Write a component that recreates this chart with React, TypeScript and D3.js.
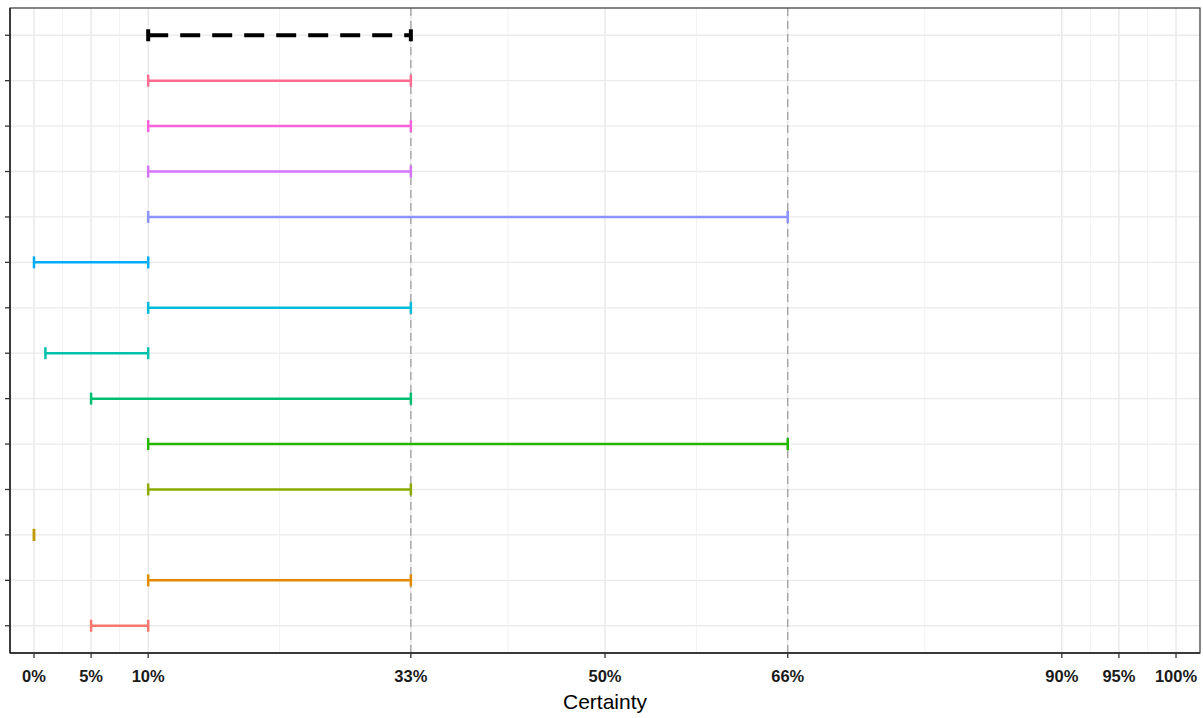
import React from "react";
import * as d3 from "d3";

// rows listed bottom to top
const rowIds = ["r1","r2","r3","r4","r5","r6","r7","r8","r9","r10","r11","r12","r13","all"];
const lowValues = [5, 10, 0, 10, 10, 5, 1, 10, 0, 10, 10, 10, 10, 10];
const highValues = [10, 33, 0, 33, 66, 33, 10, 33, 10, 66, 33, 33, 33, 33];
const rowColors = ["#F8766D","#E18A00","#BE9C00","#8CAB00","#24B700","#00BE70","#00C1AB","#00BBDA","#00ACFC","#8B93FF","#D575FE","#F962DD","#FF6C91","#000000"];
const tickValues = [0, 5, 10, 33, 50, 66, 90, 95, 100];
const refLines = [33, 66];

const W = 1203, H = 718;
const panel = { left: 10, right: 1200, top: 8, bottom: 653 };

export default function App() {
  const x = d3.scaleLinear().domain([-2.1, 102.1]).range([panel.left, panel.right]);
  const y = d3.scalePoint<string>().domain(rowIds.slice().reverse()).range([panel.top, panel.bottom]).padding(0.6);
  const minor = tickValues.slice(1).map((v, i) => (v + tickValues[i]) / 2);
  const cap = 6;
  return (
    <svg width={W} height={H} style={{ position: "absolute", left: 0, top: 0, background: "#fff" }}>
      <rect x={panel.left} y={panel.top} width={panel.right - panel.left} height={panel.bottom - panel.top} fill="#fff" />
      {minor.map((v, i) => (
        <line key={"mn" + i} x1={x(v)} x2={x(v)} y1={panel.top} y2={panel.bottom} stroke="#f2f2f2" strokeWidth={1} />
      ))}
      {tickValues.map((v, i) => (
        <line key={"mj" + i} x1={x(v)} x2={x(v)} y1={panel.top} y2={panel.bottom} stroke="#e6e6e6" strokeWidth={1.3} />
      ))}
      {rowIds.map((r) => (
        <line key={"h" + r} x1={panel.left} x2={panel.right} y1={y(r)} y2={y(r)} stroke="#ebebeb" strokeWidth={1.3} />
      ))}
      {refLines.map((v, i) => (
        <line key={"ref" + i} x1={x(v)} x2={x(v)} y1={panel.top} y2={panel.bottom} stroke="#a0a0a0" strokeWidth={1.3} strokeDasharray="8,5" />
      ))}
      {rowIds.map((r, i) => {
        const yy = y(r) as number;
        const x1 = x(lowValues[i]);
        const x2 = x(highValues[i]);
        const isAll = r === "all";
        const sw = isAll ? 4 : 2.5;
        return (
          <g key={"bar" + r} stroke={rowColors[i]}>
            <line x1={x1} x2={x2} y1={yy} y2={yy} strokeWidth={sw} strokeDasharray={isAll ? "20,12" : undefined} />
            <line x1={x1} x2={x1} y1={yy - cap} y2={yy + cap} strokeWidth={sw} />
            <line x1={x2} x2={x2} y1={yy - cap} y2={yy + cap} strokeWidth={sw} />
          </g>
        );
      })}
      <rect x={panel.left} y={panel.top} width={panel.right - panel.left} height={panel.bottom - panel.top} fill="none" stroke="#333" strokeWidth={1.2} />
      <line x1={panel.left} x2={panel.left} y1={panel.top} y2={panel.bottom} stroke="#222" strokeWidth={1.5} />
      <line x1={panel.left} x2={panel.right} y1={panel.bottom} y2={panel.bottom} stroke="#222" strokeWidth={1.5} />
      {rowIds.map((r) => (
        <line key={"yt" + r} x1={panel.left - 5} x2={panel.left} y1={y(r)} y2={y(r)} stroke="#333" strokeWidth={1.3} />
      ))}
      {tickValues.map((v, i) => (
        <g key={"xt" + i}>
          <line x1={x(v)} x2={x(v)} y1={panel.bottom} y2={panel.bottom + 5} stroke="#333" strokeWidth={1.3} />
          <text x={x(v)} y={682} textAnchor="middle" fontFamily="Liberation Sans, Arial, sans-serif" fontWeight="bold" fontSize={16.5} fill="#1a1a1a">
            {v + "%"}
          </text>
        </g>
      ))}
      <text x={(panel.left + panel.right) / 2} y={709} textAnchor="middle" fontFamily="Liberation Sans, Arial, sans-serif" fontSize={21} fill="#000">
        Certainty
      </text>
    </svg>
  );
}
